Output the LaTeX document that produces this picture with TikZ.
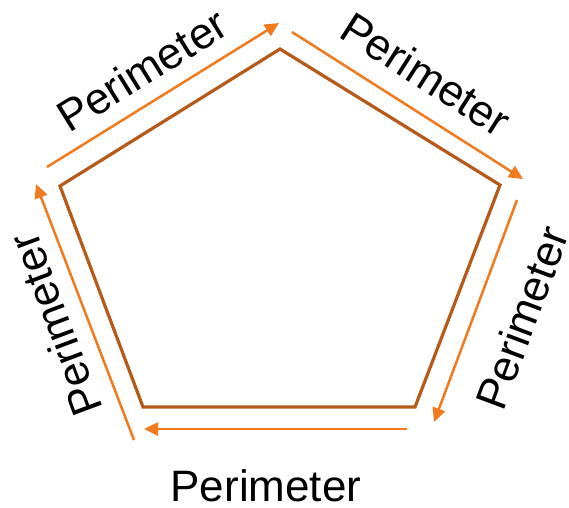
\documentclass[tikz,border=0pt]{standalone}
\usepackage{fontspec}
\setmainfont{Liberation Sans}
\usetikzlibrary{arrows.meta}
\definecolor{edgebrown}{HTML}{B55A1A}
\definecolor{arroworange}{HTML}{F07A1E}
\begin{document}
\begin{tikzpicture}[x=1pt,y=-1pt,
  side/.style={draw=edgebrown,line width=3.2pt,line join=miter},
  perim/.style={draw=arroworange,line width=2.5pt,-{Triangle[length=14pt,width=13pt]}},
  lbl/.style={font=\fontsize{44}{44}\selectfont,inner sep=0pt}]
\useasboundingbox (0,0) rectangle (569,507);
% pentagon corners
\coordinate (T) at (280,49);
\coordinate (R) at (500,185);
\coordinate (BR) at (415,407);
\coordinate (BL) at (143,407);
\coordinate (L) at (60,186);
\draw[side] (T) -- (R) -- (BR) -- (BL) -- (L) -- cycle;
% arrow ends
\coordinate (a1s) at (47,167);  \coordinate (a1e) at (279,23);
\coordinate (a2s) at (292,32);  \coordinate (a2e) at (523,179);
\coordinate (a3s) at (517,200); \coordinate (a3e) at (434,422);
\coordinate (a4s) at (407,429); \coordinate (a4e) at (144,429);
\coordinate (a5s) at (134,440); \coordinate (a5e) at (36,184);
\draw[perim] (a1s) -- (a1e);
\draw[perim] (a2s) -- (a2e);
\draw[perim] (a3s) -- (a3e);
\draw[perim] (a4s) -- (a4e);
\draw[perim] (a5s) -- (a5e);
% labels
\node[lbl,rotate=31.8] (t1) at (142,70) {Perimeter};
\node[lbl,rotate=-32.5] (t2) at (426,74) {Perimeter};
\node[lbl,rotate=69.5] (t3) at (522,318) {Perimeter};
\node[lbl] (t4) at (266,486) {Perimeter};
\node[lbl,rotate=110.5] (t5) at (55,325) {Perimeter};
\end{tikzpicture}
\end{document}
